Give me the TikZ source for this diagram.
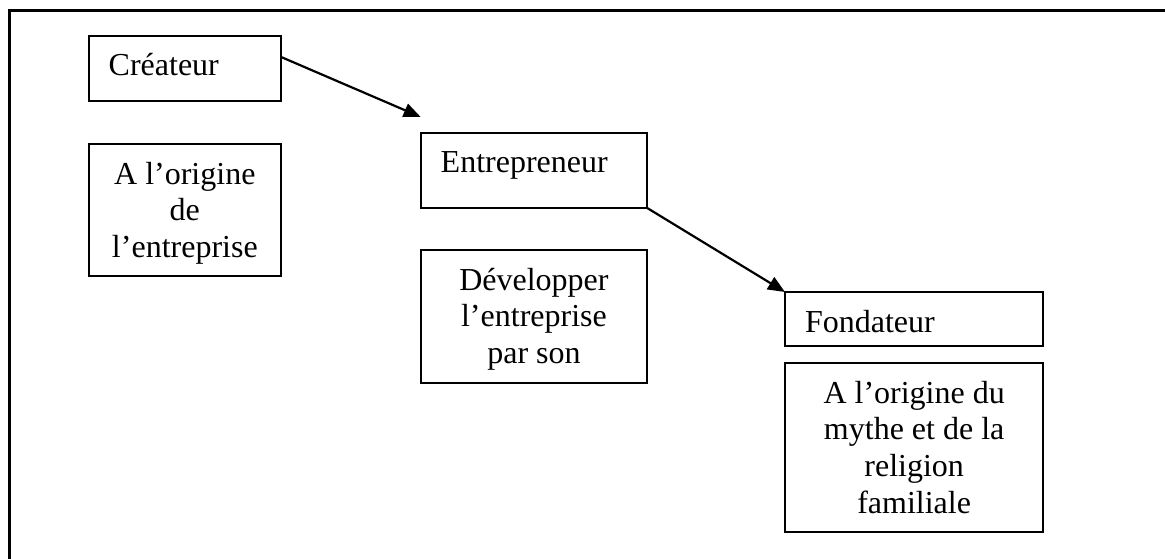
\documentclass[tikz,border=0pt]{standalone}
\usepackage{fontspec}
\setmainfont{Liberation Serif}
\usetikzlibrary{arrows.meta,calc}

\tikzset{
  box/.style={draw, line width=2pt, inner sep=0pt, outer sep=0pt,
    anchor=north west, font=\fontsize{32pt}{36.8pt}\selectfont},
  titlebox/.style={box, inner xsep=20pt, align=left, text height=40pt},
  notebox/.style={box, align=center},
  link/.style={line width=2.2pt, -{Triangle[length=17pt,width=14pt]}},
  frame/.style={line width=3pt}
}

\begin{document}
\begin{tikzpicture}[x=1pt, y=-1pt]
  \useasboundingbox (0,0) rectangle (1165,559);

  % open frame: top and left sides only
  \draw[frame] (1168,10.5) -- (9.2,10.5) -- (9.2,562);

  % first column
  \node[titlebox, text width=152.3pt, text depth=25.3pt] (crea) at (88.7,35.7) {Créateur};
  \node[notebox, minimum width=192.3pt, text height=113.6pt, text depth=18.4pt] (orig) at (88.7,144)
    {A l’origine\\de\\l’entreprise};

  % second column
  \node[titlebox, text width=186.5pt, text depth=35pt] (entre) at (420.7,133) {Entrepreneur};
  \node[notebox, minimum width=226.5pt, text height=113.6pt, text depth=19.4pt] (devel) at (420.7,250)
    {Développer\\l’entreprise\\par son};

  % third column
  \node[titlebox, text width=218.3pt, text depth=14pt] (fonda) at (785,292) {Fondateur};
  \node[notebox, minimum width=258.3pt, text height=150.4pt, text depth=18.3pt] (mythe) at (785,363)
    {A l’origine du\\mythe et de la\\religion\\familiale};

  % succession arrows
  \coordinate (tip1) at ($(entre.north west)+(0,-16)$);
  \draw[link] ($(crea.east)+(0,-11.4)$) -- (tip1);
  \draw[link] (entre.south east) -- (fonda.north west);
\end{tikzpicture}
\end{document}
